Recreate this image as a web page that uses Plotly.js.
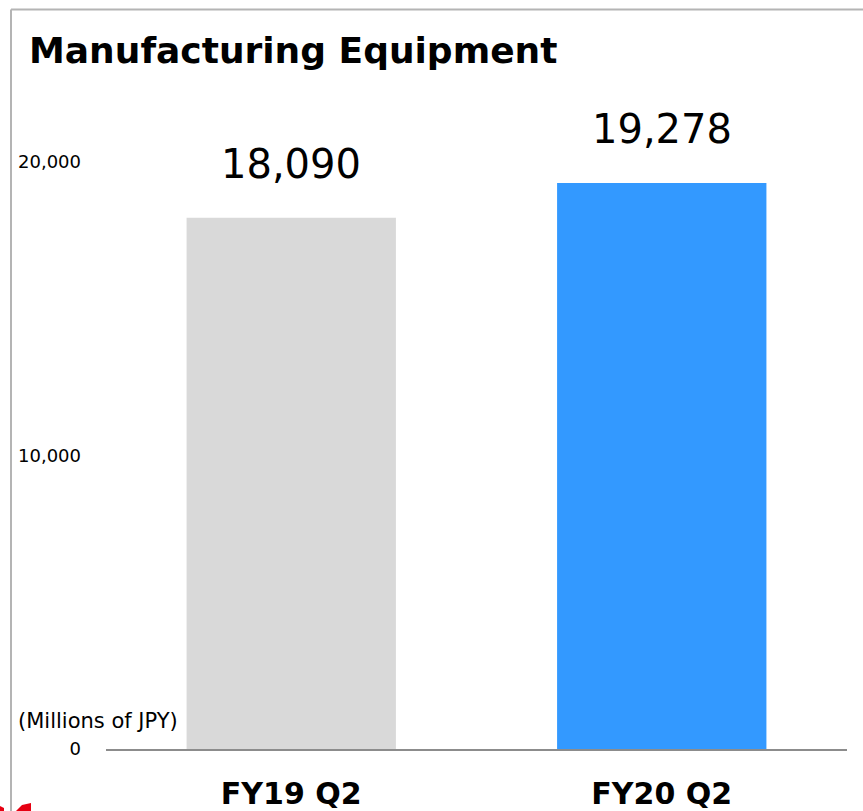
<!DOCTYPE html>
<html>
<head>
<meta charset="utf-8">
<script src="https://cdn.plot.ly/plotly-3.0.1.min.js"></script>
<style>
  html, body { margin: 0; padding: 0; background: #fff; }
  #chart { width: 863px; height: 811px; }
</style>
</head>
<body>
<div id="chart"></div>
<script>
// ---- data ----
const categories = ["FY19 Q2", "FY20 Q2"];
const values = [18090, 19278];
const barColors = ["#d9d9d9", "#3399ff"];
const yTickVals = [0, 10000, 20000];
const yTickText = ["0", "10,000", "20,000"];
const titleText = "Manufacturing Equipment";
const unitText = "(Millions of JPY)";

// ---- layout geometry ----
const W = 863, H = 811;
const M = { l: 106, r: 16, t: 103, b: 62 };
const plotW = W - M.l - M.r;
const plotH = H - M.t - M.b;
const px2x = p => (p - M.l) / plotW;
const py2y = p => (H - M.b - p) / plotH;

const FONT = "DejaVu Sans, Verdana, sans-serif";

const trace = {
  type: "bar",
  x: categories,
  y: values,
  marker: { color: barColors, line: { width: 0 } },
  hoverinfo: "skip",
  width: 0.565
};

const valueAnnotations = categories.map((c, i) => ({
  x: c, y: values[i], xref: "x", yref: "y",
  text: values[i].toLocaleString("en-US"),
  showarrow: false, xanchor: "center", yanchor: "bottom", yshift: 29,
  font: { family: FONT, size: 40, color: "#000" }
}));

const layout = {
  width: W, height: H,
  margin: M,
  paper_bgcolor: "#fff",
  plot_bgcolor: "#fff",
  showlegend: false,
  title: {
    text: "<b>" + titleText + "</b>",
    x: 29 / W, xanchor: "left", xref: "container",
    y: 1 - 50 / H, yanchor: "middle", yref: "container",
    font: { family: FONT, size: 36, color: "#000" }
  },
  xaxis: {
    type: "category",
    range: [-0.5, 1.5],
    showline: true, linecolor: "#8c8c8c", linewidth: 2,
    showgrid: false, zeroline: false,
    ticks: "", ticklabelstandoff: 17,
    tickfont: { family: FONT, size: 30, color: "#000", weight: "bold" },
    fixedrange: true
  },
  yaxis: {
    range: [0, 22000],
    tickvals: yTickVals, ticktext: yTickText,
    showline: false, showgrid: false, zeroline: false,
    ticks: "", ticklabelstandoff: 24,
    tickfont: { family: FONT, size: 18, color: "#000" },
    fixedrange: true
  },
  annotations: valueAnnotations.concat([
    {
      xref: "paper", yref: "paper",
      x: px2x(97.5), y: py2y(721),
      text: unitText, showarrow: false,
      xanchor: "center", yanchor: "middle",
      font: { family: FONT, size: 21, color: "#000" }
    }
  ]),
  shapes: [
    // frame: top and left lines
    { type: "line", xref: "paper", yref: "paper",
      x0: px2x(11), x1: px2x(W + 5), y0: py2y(9.5), y1: py2y(9.5),
      line: { color: "#b4b4b4", width: 2 } },
    { type: "line", xref: "paper", yref: "paper",
      x0: px2x(11), x1: px2x(11), y0: py2y(9.5), y1: py2y(H + 5),
      line: { color: "#b4b4b4", width: 2 } },
    // red logo fragment at bottom-left corner
    { type: "path", xref: "paper", yref: "paper",
      path: "M " + px2x(16) + " " + py2y(811) + " L " + px2x(22) + " " + py2y(805) +
            " L " + px2x(31) + " " + py2y(803) + " L " + px2x(31) + " " + py2y(811) + " Z",
      fillcolor: "#e60012", line: { width: 0 } },
    { type: "path", xref: "paper", yref: "paper",
      path: "M " + px2x(0) + " " + py2y(806) + " L " + px2x(4) + " " + py2y(808) +
            " L " + px2x(4) + " " + py2y(811) + " L " + px2x(0) + " " + py2y(811) + " Z",
      fillcolor: "#e60012", line: { width: 0 } }
  ]
};

Plotly.newPlot("chart", [trace], layout, { displayModeBar: false, staticPlot: true });
</script>
</body>
</html>
